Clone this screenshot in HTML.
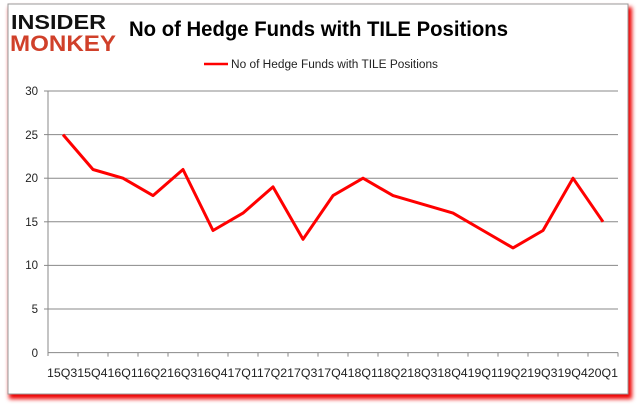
<!DOCTYPE html>
<html><head><style>
body{margin:0;width:637px;height:408px;background:#fff;overflow:hidden;font-family:"Liberation Sans",sans-serif}
</style></head><body>
<svg width="637" height="408" xmlns="http://www.w3.org/2000/svg">
<defs><filter id="s" x="-5%" y="-5%" width="110%" height="115%"><feGaussianBlur stdDeviation="2"/></filter></defs>
<rect x="9" y="7" width="623" height="392" fill="#e00" filter="url(#s)"/>
<rect x="8" y="4" width="620" height="390" fill="#fff" stroke="#999" stroke-width="1"/>
<text x="11" y="29" font-family="Liberation Sans" font-weight="bold" font-size="20" fill="#111" textLength="95" lengthAdjust="spacingAndGlyphs">INSIDER</text>
<text x="10" y="51" font-family="Liberation Sans" font-weight="bold" font-size="22" fill="#d0402a" textLength="106" lengthAdjust="spacingAndGlyphs">MONKEY</text>
<text x="129" y="36" font-family="Liberation Sans" font-weight="bold" font-size="21" fill="#000" textLength="379" lengthAdjust="spacingAndGlyphs">No of Hedge Funds with TILE Positions</text>
<line x1="204" y1="64" x2="228" y2="64" stroke="#f00" stroke-width="2.5"/>
<text x="231" y="68" font-size="11.5" fill="#222" textLength="207" lengthAdjust="spacingAndGlyphs">No of Hedge Funds with TILE Positions</text>
<g stroke="#888" stroke-width="1">
<line x1="48" y1="91" x2="618" y2="91"/><line x1="48" y1="134.6" x2="618" y2="134.6"/>
<line x1="48" y1="178.2" x2="618" y2="178.2"/><line x1="48" y1="221.8" x2="618" y2="221.8"/>
<line x1="48" y1="265.4" x2="618" y2="265.4"/><line x1="48" y1="309" x2="618" y2="309"/>
<line x1="48" y1="352.6" x2="618" y2="352.6"/><line x1="48" y1="91" x2="48" y2="356"/>
<line x1="44" y1="91" x2="48" y2="91"/><line x1="44" y1="134.6" x2="48" y2="134.6"/><line x1="44" y1="178.2" x2="48" y2="178.2"/><line x1="44" y1="221.8" x2="48" y2="221.8"/><line x1="44" y1="265.4" x2="48" y2="265.4"/><line x1="44" y1="309" x2="48" y2="309"/>
<path d="M78 352.6v4M108 352.6v4M138 352.6v4M168 352.6v4M198 352.6v4M228 352.6v4M258 352.6v4M288 352.6v4M318 352.6v4M348 352.6v4M378 352.6v4M408 352.6v4M438 352.6v4M468 352.6v4M498 352.6v4M528 352.6v4M558 352.6v4M588 352.6v4M618 352.6v4"/>
</g>
<g font-size="11.5" fill="#222" text-anchor="end">
<text x="38" y="95">30</text><text x="38" y="139">25</text><text x="38" y="182">20</text><text x="38" y="226">15</text><text x="38" y="269">10</text><text x="38" y="313">5</text><text x="38" y="357">0</text>
</g>
<text x="47" y="377" font-size="11.5" fill="#222" textLength="571" lengthAdjust="spacingAndGlyphs">15Q315Q416Q116Q216Q316Q417Q117Q217Q317Q418Q118Q218Q318Q419Q119Q219Q319Q420Q1</text>
<polyline fill="none" stroke="#f00" stroke-width="3" stroke-linejoin="round" points="63,134.6 93,169.5 123,178.2 153,195.6 183,169.5 213,230.5 243,213.1 273,186.9 303,239.3 333,195.6 363,178.2 393,195.6 423,204.3 453,213.1 483,230.5 513,247.9 543,230.5 573,178.2 603,221.8"/>
</svg>
</body></html>
